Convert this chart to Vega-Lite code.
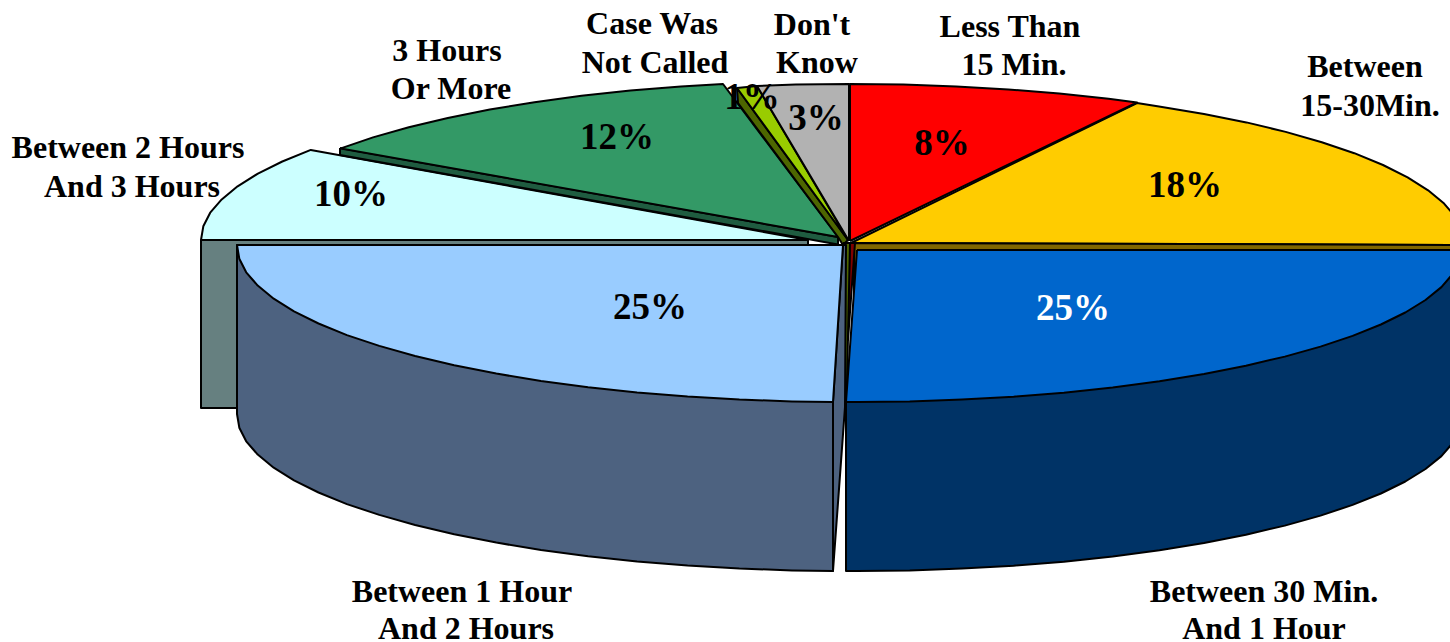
{"$schema":"https://vega.github.io/schema/vega-lite/v6.json","width":1450,"height":642,"padding":0,"autosize":"none","background":"white","view":{"stroke":null},
"encoding":{"x":{"field":"x","type":"quantitative","scale":{"domain":[0,1450],"nice":false,"zero":false},"axis":null},"y":{"field":"y","type":"quantitative","scale":{"domain":[642,0],"nice":false,"zero":false},"axis":null}},
"datasets":{"shape":[
{"p":"cyanTop","s":0,"x":808,"y":240},{"p":"cyanTop","s":1,"x":201,"y":240},{"p":"cyanTop","s":2,"x":203.3,"y":226.3},{"p":"cyanTop","s":3,"x":210.2,"y":212.7},{"p":"cyanTop","s":4,"x":221.7,"y":199.4},{"p":"cyanTop","s":5,"x":237.6,"y":186.3},{"p":"cyanTop","s":6,"x":257.9,"y":173.6},{"p":"cyanTop","s":7,"x":282.3,"y":161.5},{"p":"cyanTop","s":8,"x":310.8,"y":149.9},{"p":"cyanTop","s":9,"x":808,"y":240},
{"p":"cyanSide","s":0,"x":201,"y":240},{"p":"cyanSide","s":1,"x":808,"y":240},{"p":"cyanSide","s":2,"x":808,"y":245},{"p":"cyanSide","s":3,"x":237,"y":245},{"p":"cyanSide","s":4,"x":237,"y":408},{"p":"cyanSide","s":5,"x":201,"y":408},{"p":"cyanSide","s":6,"x":201,"y":240},
{"p":"greenSide","s":0,"x":340,"y":148},{"p":"greenSide","s":1,"x":838,"y":237},{"p":"greenSide","s":2,"x":838,"y":244.5},{"p":"greenSide","s":3,"x":340,"y":155},{"p":"greenSide","s":4,"x":340,"y":148},
{"p":"greenTop","s":0,"x":838,"y":237},{"p":"greenTop","s":1,"x":340.8,"y":148.4},{"p":"greenTop","s":2,"x":373,"y":137.4},{"p":"greenTop","s":3,"x":408.8,"y":127.3},{"p":"greenTop","s":4,"x":447.8,"y":118},{"p":"greenTop","s":5,"x":489.8,"y":109.6},{"p":"greenTop","s":6,"x":534.5,"y":102.2},{"p":"greenTop","s":7,"x":581.5,"y":95.8},{"p":"greenTop","s":8,"x":630.4,"y":90.5},{"p":"greenTop","s":9,"x":680.9,"y":86.4},{"p":"greenTop","s":10,"x":723,"y":84},{"p":"greenTop","s":11,"x":838,"y":237},
{"p":"limeSide","s":0,"x":737,"y":88},{"p":"limeSide","s":1,"x":738,"y":103},{"p":"limeSide","s":2,"x":838,"y":237},{"p":"limeSide","s":3,"x":843,"y":245},{"p":"limeSide","s":4,"x":848,"y":240},{"p":"limeSide","s":5,"x":737,"y":88},
{"p":"limeTop","s":0,"x":848,"y":240},{"p":"limeTop","s":1,"x":737,"y":88},{"p":"limeTop","s":2,"x":757,"y":86},{"p":"limeTop","s":3,"x":848,"y":240},
{"p":"grayTop","s":0,"x":849,"y":241},{"p":"grayTop","s":1,"x":757,"y":86},{"p":"grayTop","s":2,"x":795.7,"y":84.6},{"p":"grayTop","s":3,"x":849,"y":84},{"p":"grayTop","s":4,"x":849,"y":241},
{"p":"yellowTop","s":0,"x":851,"y":243},{"p":"yellowTop","s":1,"x":1137,"y":103},{"p":"yellowTop","s":2,"x":1159,"y":106.4},{"p":"yellowTop","s":3,"x":1204,"y":113.9},{"p":"yellowTop","s":4,"x":1246.4,"y":122.4},{"p":"yellowTop","s":5,"x":1285.7,"y":131.9},{"p":"yellowTop","s":6,"x":1321.8,"y":142.2},{"p":"yellowTop","s":7,"x":1354.3,"y":153.2},{"p":"yellowTop","s":8,"x":1383,"y":165},{"p":"yellowTop","s":9,"x":1407.6,"y":177.4},{"p":"yellowTop","s":10,"x":1428.1,"y":190.3},{"p":"yellowTop","s":11,"x":1444.1,"y":203.6},{"p":"yellowTop","s":12,"x":1455.7,"y":217.2},{"p":"yellowTop","s":13,"x":1462.7,"y":231},{"p":"yellowTop","s":14,"x":1465,"y":245},{"p":"yellowTop","s":15,"x":851,"y":243},
{"p":"redTop","s":0,"x":850,"y":241},{"p":"redTop","s":1,"x":850,"y":84},{"p":"redTop","s":2,"x":903.4,"y":84.6},{"p":"redTop","s":3,"x":956.3,"y":86.4},{"p":"redTop","s":4,"x":1008.4,"y":89.4},{"p":"redTop","s":5,"x":1059.3,"y":93.5},{"p":"redTop","s":6,"x":1108.6,"y":98.7},{"p":"redTop","s":7,"x":1137,"y":102.5},{"p":"redTop","s":8,"x":850,"y":241},
{"p":"yellowSide","s":0,"x":854,"y":243},{"p":"yellowSide","s":1,"x":1465,"y":245},{"p":"yellowSide","s":2,"x":1465,"y":250},{"p":"yellowSide","s":3,"x":858,"y":250},{"p":"yellowSide","s":4,"x":854,"y":290},{"p":"yellowSide","s":5,"x":854,"y":243},
{"p":"redSide","s":0,"x":850,"y":243},{"p":"redSide","s":1,"x":855,"y":243},{"p":"redSide","s":2,"x":848,"y":340},{"p":"redSide","s":3,"x":847,"y":340},{"p":"redSide","s":4,"x":850,"y":243},
{"p":"oliveSide","s":0,"x":843,"y":243},{"p":"oliveSide","s":1,"x":850,"y":243},{"p":"oliveSide","s":2,"x":846.5,"y":407},{"p":"oliveSide","s":3,"x":844,"y":407},{"p":"oliveSide","s":4,"x":843,"y":243},
{"p":"slateFace","s":0,"x":843,"y":245},{"p":"slateFace","s":1,"x":846,"y":245},{"p":"slateFace","s":2,"x":845,"y":407},{"p":"slateFace","s":3,"x":833,"y":571},{"p":"slateFace","s":4,"x":833,"y":402},{"p":"slateFace","s":5,"x":843,"y":245},
{"p":"skySide","s":0,"x":237,"y":245},{"p":"skySide","s":1,"x":237,"y":414},{"p":"skySide","s":2,"x":239.3,"y":427.7},{"p":"skySide","s":3,"x":246.2,"y":441.3},{"p":"skySide","s":4,"x":257.7,"y":454.6},{"p":"skySide","s":5,"x":273.7,"y":467.7},{"p":"skySide","s":6,"x":294,"y":480.4},{"p":"skySide","s":7,"x":318.5,"y":492.5},{"p":"skySide","s":8,"x":346.9,"y":504.1},{"p":"skySide","s":9,"x":379.3,"y":514.9},{"p":"skySide","s":10,"x":415.1,"y":525},{"p":"skySide","s":11,"x":454.2,"y":534.3},{"p":"skySide","s":12,"x":496.3,"y":542.6},{"p":"skySide","s":13,"x":541,"y":550},{"p":"skySide","s":14,"x":588.1,"y":556.3},{"p":"skySide","s":15,"x":637.1,"y":561.5},{"p":"skySide","s":16,"x":687.6,"y":565.6},{"p":"skySide","s":17,"x":739.4,"y":568.6},{"p":"skySide","s":18,"x":792,"y":570.4},{"p":"skySide","s":19,"x":833,"y":571},{"p":"skySide","s":20,"x":833,"y":402},{"p":"skySide","s":21,"x":237,"y":245},
{"p":"skyTop","s":0,"x":843,"y":245},{"p":"skyTop","s":1,"x":237,"y":245},{"p":"skyTop","s":2,"x":239.3,"y":258.7},{"p":"skyTop","s":3,"x":246.2,"y":272.3},{"p":"skyTop","s":4,"x":257.7,"y":285.6},{"p":"skyTop","s":5,"x":273.7,"y":298.7},{"p":"skyTop","s":6,"x":294,"y":311.4},{"p":"skyTop","s":7,"x":318.5,"y":323.5},{"p":"skyTop","s":8,"x":346.9,"y":335.1},{"p":"skyTop","s":9,"x":379.3,"y":345.9},{"p":"skyTop","s":10,"x":415.1,"y":356},{"p":"skyTop","s":11,"x":454.2,"y":365.3},{"p":"skyTop","s":12,"x":496.3,"y":373.6},{"p":"skyTop","s":13,"x":541,"y":381},{"p":"skyTop","s":14,"x":588.1,"y":387.3},{"p":"skyTop","s":15,"x":637.1,"y":392.5},{"p":"skyTop","s":16,"x":687.6,"y":396.6},{"p":"skyTop","s":17,"x":739.4,"y":399.6},{"p":"skyTop","s":18,"x":792,"y":401.4},{"p":"skyTop","s":19,"x":833,"y":402},{"p":"skyTop","s":20,"x":843,"y":245},
{"p":"navySide","s":0,"x":846,"y":402},{"p":"navySide","s":1,"x":846,"y":571},{"p":"navySide","s":2,"x":857,"y":571},{"p":"navySide","s":3,"x":909.7,"y":570.4},{"p":"navySide","s":4,"x":962,"y":568.6},{"p":"navySide","s":5,"x":1013.6,"y":565.7},{"p":"navySide","s":6,"x":1063.9,"y":561.7},{"p":"navySide","s":7,"x":1112.7,"y":556.5},{"p":"navySide","s":8,"x":1159.5,"y":550.2},{"p":"navySide","s":9,"x":1204,"y":543},{"p":"navySide","s":10,"x":1245.9,"y":534.7},{"p":"navySide","s":11,"x":1284.8,"y":525.6},{"p":"navySide","s":12,"x":1320.5,"y":515.6},{"p":"navySide","s":13,"x":1352.6,"y":504.9},{"p":"navySide","s":14,"x":1380.9,"y":493.5},{"p":"navySide","s":15,"x":1405.3,"y":481.5},{"p":"navySide","s":16,"x":1425.5,"y":469},{"p":"navySide","s":17,"x":1441.4,"y":456.1},{"p":"navySide","s":18,"x":1452.8,"y":442.9},{"p":"navySide","s":19,"x":1459.7,"y":429.5},{"p":"navySide","s":20,"x":1462,"y":416},{"p":"navySide","s":21,"x":1462,"y":260},{"p":"navySide","s":22,"x":846,"y":402},
{"p":"blueTop","s":0,"x":857,"y":250},{"p":"blueTop","s":1,"x":1462,"y":250},{"p":"blueTop","s":2,"x":1459.7,"y":260.5},{"p":"blueTop","s":3,"x":1452.8,"y":273.9},{"p":"blueTop","s":4,"x":1441.4,"y":287.1},{"p":"blueTop","s":5,"x":1425.5,"y":300},{"p":"blueTop","s":6,"x":1405.3,"y":312.5},{"p":"blueTop","s":7,"x":1380.9,"y":324.5},{"p":"blueTop","s":8,"x":1352.6,"y":335.9},{"p":"blueTop","s":9,"x":1320.5,"y":346.6},{"p":"blueTop","s":10,"x":1284.8,"y":356.6},{"p":"blueTop","s":11,"x":1245.9,"y":365.7},{"p":"blueTop","s":12,"x":1204,"y":374},{"p":"blueTop","s":13,"x":1159.5,"y":381.2},{"p":"blueTop","s":14,"x":1112.7,"y":387.5},{"p":"blueTop","s":15,"x":1063.9,"y":392.7},{"p":"blueTop","s":16,"x":1013.6,"y":396.7},{"p":"blueTop","s":17,"x":962,"y":399.6},{"p":"blueTop","s":18,"x":909.7,"y":401.4},{"p":"blueTop","s":19,"x":857,"y":402},{"p":"blueTop","s":20,"x":846,"y":402},{"p":"blueTop","s":21,"x":857,"y":250}
],
"names":[
{"t":"Less Than","x":1010,"y":26},{"t":"15 Min.","x":1014,"y":64},
{"t":"Between","x":1365,"y":66},{"t":"15-30Min.","x":1370,"y":105},
{"t":"Between 30 Min.","x":1264,"y":591},{"t":"And 1 Hour","x":1264,"y":628},
{"t":"Between 1 Hour","x":462,"y":591},{"t":"And 2 Hours","x":466,"y":628},
{"t":"Between 2 Hours","x":128,"y":147},{"t":"And 3 Hours","x":132,"y":186},
{"t":"3 Hours","x":447,"y":50},{"t":"Or More","x":451,"y":88},
{"t":"Case Was","x":652,"y":23},{"t":"Not Called","x":655,"y":62},
{"t":"Don't","x":812,"y":24},{"t":"Know","x":817,"y":62}],
"shares":[
{"t":"8%","slice":"Less Than 15 Min.","x":942,"y":142},
{"t":"18%","slice":"Between 15-30 Min.","x":1185,"y":184},
{"t":"25%","slice":"Between 30 Min. And 1 Hour","x":1073,"y":307},
{"t":"25%","slice":"Between 1 Hour And 2 Hours","x":650,"y":306},
{"t":"10%","slice":"Between 2 Hours And 3 Hours","x":351,"y":193},
{"t":"12%","slice":"3 Hours Or More","x":617,"y":136},
{"t":"1%","slice":"Case Was Not Called","x":752,"y":96},
{"t":"3%","slice":"Don't Know","x":816,"y":117}]},
"layer":[
{"data":{"name":"shape"},"mark":{"type":"line","stroke":"black","strokeWidth":2,"strokeJoin":"round","clip":true},
"encoding":{"order":{"field":"s","type":"quantitative"},
"fill":{"field":"p","type":"nominal","legend":null,"sort":null,"scale":{"domain":["cyanTop","cyanSide","greenSide","greenTop","limeSide","limeTop","grayTop","yellowTop","redTop","yellowSide","redSide","oliveSide","slateFace","skySide","skyTop","navySide","blueTop"],"range":["#CCFFFF","#668080","#1F5C40","#339966","#4D6600","#99CC00","#B2B2B2","#FFCC00","#FF0000","#806600","#800000","#4D6600","#4D6280","#4D6280","#99CCFF","#003366","#0066CC"]}}}},
{"data":{"name":"names"},"mark":{"type":"text","font":"Liberation Serif","fontWeight":"bold","fontSize":32,"color":"black","baseline":"alphabetic","dy":11},
"encoding":{"text":{"field":"t"}}},
{"data":{"name":"shares"},"mark":{"type":"text","font":"Liberation Serif","fontWeight":"bold","fontSize":37,"baseline":"alphabetic","dy":12.5},
"encoding":{"text":{"field":"t"},"color":{"condition":{"test":"datum.slice==='Between 30 Min. And 1 Hour'","value":"white"},"value":"black"}}}
]}
